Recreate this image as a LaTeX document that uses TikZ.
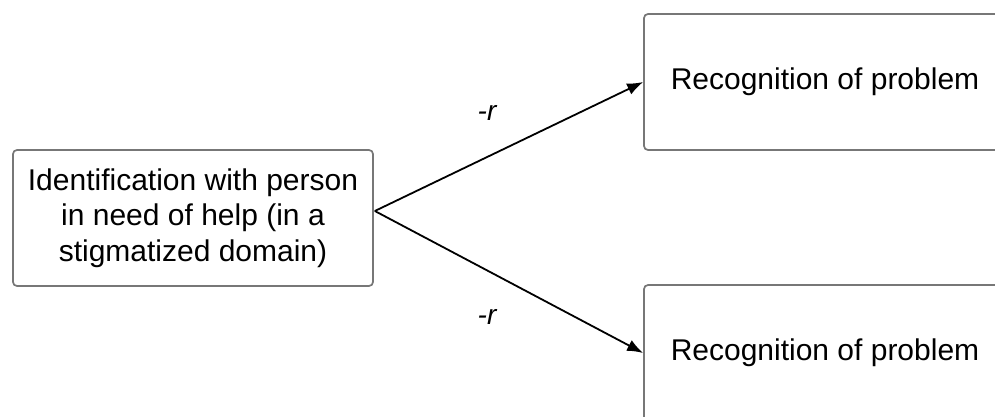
\documentclass[tikz,border=0pt]{standalone}
\usepackage{fontspec}
\setmainfont{Liberation Sans}
\usetikzlibrary{arrows.meta,calc}
\definecolor{boxgray}{HTML}{777777}
\begin{document}
\begin{tikzpicture}[x=1pt,y=-1pt,
  box/.style={draw=boxgray, line width=1.7pt, rounded corners=4pt, fill=white,
    align=center, inner sep=0pt, minimum width=360pt, minimum height=136pt,
    font=\fontsize{30}{35.5}\selectfont},
  link/.style={-{Latex[length=16pt,width=12pt]}, line width=1.8pt},
  lbl/.style={font=\fontsize{28}{32}\selectfont\itshape}]
  \clip (0,0) rectangle (995,417);
  \fill[white] (0,0) rectangle (995,417);

  \node[box] (ident) at (193,218)
    {Identification with person\\in need of help (in a\\stigmatized domain)};
  \node[box, minimum width=362pt] (recA) at (825,82) {Recognition of problem};
  \node[box, minimum width=362pt] (recB) at (825,353) {Recognition of problem};

  \coordinate (fork) at ($(ident.east)+(1,-7)$);
  \draw[link] (fork) -- (recA.west);
  \draw[link] (fork) -- (recB.west);

  \node[lbl] (lblA) at (487,113) {-r};
  \node[lbl] (lblB) at (487,317) {-r};
\end{tikzpicture}
\end{document}
